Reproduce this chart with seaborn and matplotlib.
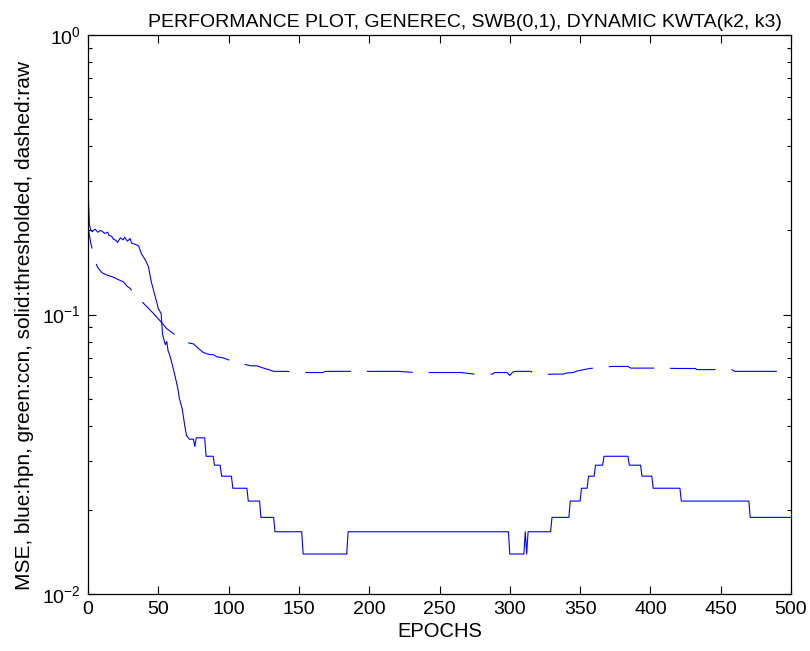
import numpy as np
import pandas as pd
import matplotlib
matplotlib.use("Agg")
import matplotlib.pyplot as plt
import seaborn as sns
from matplotlib.ticker import LogLocator, NullFormatter, FixedLocator

# ---- data ----
title = "PERFORMANCE PLOT, GENEREC, SWB(0,1), DYNAMIC KWTA(k2, k3)"
xlabel = "EPOCHS"
ylabel = "MSE, blue:hpn, green:ccn, solid:thresholded, dashed:raw"
xticks = [0, 50, 100, 150, 200, 250, 300, 350, 400, 450, 500]

# solid (thresholded) series, breakpoints
solid_epoch = [0, 1, 2, 3, 5, 7, 9, 12, 14, 15, 17, 18, 20, 21, 23, 25, 26, 28, 30, 31,
               34, 36, 38, 41, 43, 45, 47, 49, 50, 52, 53, 55, 56, 57, 58, 60, 62, 64,
               65, 67, 69, 70, 72, 75, 76, 77,
               83, 84, 89, 90, 94, 95, 102, 103, 113, 114, 122, 123, 132, 133,
               152, 153, 184, 185, 299, 300, 310, 311, 312, 313, 329, 330,
               342, 343, 350, 351, 355, 356, 360, 361, 366, 367, 384, 385,
               393, 394, 401, 402, 421, 422, 470, 471, 500]
solid_mse = [0.28, 0.21, 0.20, 0.198, 0.202, 0.197, 0.20, 0.195, 0.197, 0.192, 0.19, 0.186,
             0.184, 0.181, 0.188, 0.185, 0.189, 0.183, 0.187, 0.18, 0.178, 0.176, 0.165,
             0.156, 0.148, 0.131, 0.12, 0.110, 0.105, 0.101, 0.085, 0.078, 0.080, 0.074,
             0.072, 0.066, 0.060, 0.054, 0.050, 0.046, 0.0395, 0.037, 0.0358, 0.0358,
             0.0337, 0.0362,
             0.0362, 0.0311, 0.0311, 0.0289, 0.0289, 0.0264, 0.0264, 0.0239, 0.0239, 0.0215,
             0.0215, 0.0188, 0.0188, 0.0167, 0.0167, 0.0139, 0.0139, 0.0167, 0.0167, 0.0139,
             0.0139, 0.0167, 0.0139, 0.0167, 0.0167, 0.0188, 0.0188, 0.0215, 0.0215, 0.0239,
             0.0239, 0.0264, 0.0264, 0.0289, 0.0289, 0.0311, 0.0311, 0.0289, 0.0289, 0.0264,
             0.0264, 0.0239, 0.0239, 0.0215, 0.0215, 0.0188, 0.0188]

# dashed (raw) series, breakpoints
raw_epoch = [0, 2, 5, 7, 10, 14, 18, 22, 25, 28, 30, 33, 36, 40, 44, 48, 52, 56,
             60, 64, 68, 72, 75, 78, 82, 86, 89, 92, 96, 101, 106, 112, 116, 120, 122,
             126, 129, 132, 142, 146, 167, 169, 221, 232, 265, 275, 288, 289, 298, 300,
             302, 304, 315, 316, 321, 325, 332, 338, 340, 345, 348, 352, 356, 362, 373,
             384, 386, 405, 420, 432, 433, 458, 460, 500]
raw_mse = [0.205, 0.18, 0.155, 0.147, 0.141, 0.138, 0.136, 0.133, 0.131,
           0.126, 0.124, 0.118, 0.114, 0.109, 0.104, 0.099, 0.094, 0.089, 0.086, 0.083,
           0.081, 0.079, 0.0785, 0.076, 0.0731, 0.072, 0.0718, 0.0705, 0.070, 0.0685,
           0.0675, 0.0662, 0.0655, 0.0655, 0.065, 0.064, 0.0634, 0.0626, 0.0626, 0.062,
           0.062, 0.0626, 0.0626, 0.062, 0.062, 0.0612, 0.0612, 0.062, 0.062, 0.0605,
           0.0622, 0.0626, 0.0626, 0.062, 0.062, 0.061, 0.0612, 0.0612, 0.0617, 0.062,
           0.0628, 0.0634, 0.064, 0.0645, 0.0652, 0.0652, 0.0643, 0.0643, 0.0641, 0.0641,
           0.0635, 0.0635, 0.0626, 0.0626]

# epochs where a gap of the dashed line begins in the reference (used only to phase the dashes)
gap_start_epochs = [5, 35.6, 64, 101, 142, 177, 221, 265, 321, 362, 405]

solid_df = pd.DataFrame({"epoch": solid_epoch, "mse": solid_mse})
raw_df = pd.DataFrame({"epoch": raw_epoch, "mse": raw_mse})

sns.set_style("white")
plt.rcParams["font.family"] = ["Liberation Sans", "DejaVu Sans"]
plt.rcParams["mathtext.fontset"] = "custom"
plt.rcParams["mathtext.rm"] = "Liberation Sans"
plt.rcParams["text.color"] = "black"
plt.rcParams["axes.labelcolor"] = "black"
plt.rcParams["xtick.color"] = "black"
plt.rcParams["ytick.color"] = "black"

DPI = 100
fig = plt.figure(figsize=(8.1, 6.51), dpi=DPI)
ax = fig.add_axes([88 / 810, 1 - 594 / 651, (791 - 88) / 810, (594 - 35) / 651])
ax.set_yscale("log")
ax.set_xlim(0, 500)
ax.set_ylim(1e-2, 1)

lw = 0.8
dash_pt, gap_pt = 33.0, 11.5
period_px = (dash_pt + gap_pt) * DPI / 72
dash_px = dash_pt * DPI / 72
pts = ax.transData.transform(np.column_stack([raw_epoch, raw_mse]))
seg = np.hypot(np.diff(pts[:, 0]), np.diff(pts[:, 1]))
cum = np.concatenate([[0], np.cumsum(seg)])
L = np.interp(gap_start_epochs, raw_epoch, cum)
best, best_score = 0.0, 1e18
for off in np.linspace(0, period_px, 400, endpoint=False):
    ph = (L + off) % period_px
    d = np.abs(ph - dash_px)
    d = np.minimum(d, period_px - d)
    sc = np.sum(d ** 2)
    if sc < best_score:
        best, best_score = off, sc
offset_pt = best * 72 / DPI

sns.lineplot(data=solid_df, x="epoch", y="mse", ax=ax, color="#0000ff", lw=lw,
             estimator=None, sort=False)
sns.lineplot(data=raw_df, x="epoch", y="mse", ax=ax, color="#0000ff", lw=lw,
             estimator=None, sort=False,
             linestyle=(offset_pt / lw, (dash_pt / lw, gap_pt / lw)))

ax.set_yscale("log")
ax.set_xlim(0, 500)
ax.set_ylim(1e-2, 1)
ax.xaxis.set_major_locator(FixedLocator(xticks))
ax.set_xticklabels([str(t) for t in xticks])
ax.yaxis.set_major_locator(LogLocator(base=10, numticks=10))
ax.yaxis.set_minor_locator(LogLocator(base=10, subs=np.arange(2, 10), numticks=20))
ax.yaxis.set_minor_formatter(NullFormatter())

for s in ax.spines.values():
    s.set_visible(True)
    s.set_color("black")
    s.set_linewidth(0.9)

ax.tick_params(which="both", direction="in", top=True, right=True,
               bottom=True, left=True, colors="black", labelcolor="black", labelsize=14)
ax.tick_params(which="major", length=6, width=0.8, pad=5)
ax.tick_params(which="minor", length=3, width=0.8)

ax.set_title(title, fontsize=14, x=0.536, pad=6, color="black")
ax.set_xlabel(xlabel, fontsize=14.5, labelpad=3, color="black")
ax.set_ylabel(ylabel, fontsize=15, color="black")
ax.yaxis.set_label_coords(-0.077, 0.48)

fig.savefig("out.png", dpi=DPI)
